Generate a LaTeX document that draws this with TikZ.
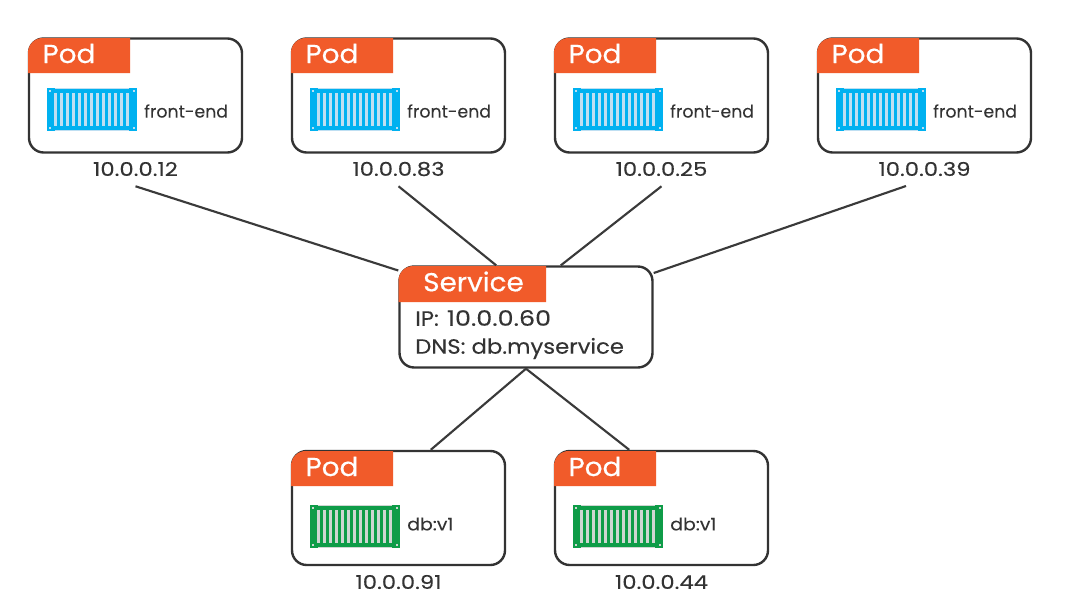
\documentclass[tikz,border=0pt]{standalone}
\usepackage{fontspec}
\setmainfont{Poppins}
\newfontfamily\tabface[FakeBold=0.5,FakeStretch=1.07]{Poppins}
\newfontfamily\ipface[FakeStretch=1.2,FakeBold=0.15]{Poppins}
\newfontfamily\svcface[FakeStretch=1.1,FakeBold=0.15]{Poppins}
\newfontfamily\appface[FakeBold=0.1]{Poppins}
\newfontfamily\dbface[FakeStretch=1.09,FakeBold=0.1]{Poppins}
\definecolor{taborange}{HTML}{F15B2A}
\definecolor{boxline}{HTML}{333333}
\definecolor{linkline}{HTML}{3A3A3A}
\definecolor{textdark}{HTML}{333333}
\definecolor{frontblue}{HTML}{00B1F0}
\definecolor{frontstripe}{HTML}{BFDFF2}
\definecolor{dbgreen}{HTML}{0E9C48}
\definecolor{dbstripe}{HTML}{CFD6D2}
\tikzset{
  podbox/.style={draw=boxline, fill=white, line width=1.8pt, rounded corners=11pt,
    minimum width=159.75pt, minimum height=85.5pt, inner sep=0pt},
  svcbox/.style={draw=boxline, fill=white, line width=1.8pt, rounded corners=11pt,
    minimum width=189.75pt, minimum height=75.75pt, inner sep=0pt},
  link/.style={draw=linkline, line width=1.6pt},
  tabtext/.style={text=white, font=\tabface\fontsize{19.5}{20}\selectfont, inner sep=0pt},
  iptext/.style={text=textdark, font=\ipface\fontsize{14.2}{16}\selectfont, inner sep=0pt, minimum height=25.5pt},
  apptext/.style={text=textdark, font=\appface\fontsize{13}{15}\selectfont, inner sep=0pt, anchor=west},
  dbtext/.style={text=textdark, font=\dbface\fontsize{13}{15}\selectfont, inner sep=0pt, anchor=west},
  svctext/.style={text=textdark, font=\svcface\fontsize{15.5}{17}\selectfont, inner sep=0pt, anchor=west},
}
% container: left, top, body colour, stripe colour
\newcommand{\drawcontainer}[4]{
  \fill[#3] (#1,#2) rectangle (#1+90,#2+43);
  \fill[#4] (#1+8,#2+0.3) rectangle (#1+82,#2+1.1);
  \fill[#4] (#1+8,#2+41.9) rectangle (#1+82,#2+42.7);
  \foreach \s in {0,...,12}
    \fill[#4] (#1+7.2+6*\s,#2+5) rectangle (#1+9.8+6*\s,#2+38);
  \foreach \cx/\cy in {1.5/2,85.5/2,1.5/38.5,85.5/38.5}
    \fill[#4] (#1+\cx,#2+\cy) rectangle (#1+\cx+2.5,#2+\cy+2);
}
\begin{document}
\begin{tikzpicture}[x=0.75pt,y=-0.75pt]
\useasboundingbox (0,0) rectangle (1068,600);

% front-end pods
\foreach \px/\ip/\nm in {29/10.0.0.12/a,292/10.0.0.83/b,555/10.0.0.25/c,818/10.0.0.39/d}{
  \node[podbox] (pod\nm) at (\px+106.5,95.5) {};
  \fill[taborange] (\px-1,73) [rounded corners=11pt] -- (\px-1,38) [sharp corners] -- (\px+101,38) -- (\px+101,73) -- cycle;
  \node[tabtext] (tab\nm) at (\px+40,53.5) {Pod};
  \drawcontainer{\px+18}{88}{frontblue}{frontstripe}
  \node[apptext] (app\nm) at (\px+115,111) {front-end};
  \node[iptext] (ip\nm) at (\px+106.5,169) {\ip};
}

% db pods
\foreach \px/\ip/\nm in {292/10.0.0.91/e,555/10.0.0.44/f}{
  \node[podbox] (pod\nm) at (\px+106.5,508) {};
  \fill[taborange] (\px-1,486) [rounded corners=11pt] -- (\px-1,451) [sharp corners] -- (\px+101,451) -- (\px+101,486) -- cycle;
  \node[tabtext] (tab\nm) at (\px+40,466.5) {Pod};
  \drawcontainer{\px+18}{505}{dbgreen}{dbstripe}
  \node[dbtext] (app\nm) at (\px+115,524) {db:v1};
  \node[iptext] (ip\nm) at (\px+106.5,582) {\ip};
}

% service
\node[svcbox] (svc) at (526,317) {};
\fill[taborange] (398.5,302) [rounded corners=11pt] -- (398.5,266) [sharp corners] -- (546,266) -- (546,302) -- cycle;
\node[tabtext] (svctab) at (473.5,281.5) {Service};
\node[svctext] (svcip) at (415,318) {IP:\hspace{6pt}{\ipface\fontsize{15.9}{17}\selectfont 10.0.0.60}};
\node[svctext] (svcdns) at (415,348.5) {DNS: db.myservice};

\coordinate (ipdend) at (906,186);
\draw[link] (ipa.south) -- (svc.160.5);
\draw[link] (ipb.south) -- (svc.120);
\draw[link] (ipc.south) -- (svc.56);
\draw[link] (ipdend) -- (svc.19.6);
\draw[link] (svc.south) -- (pode.61);
\draw[link] (svc.south) -- (podf.119);

\end{tikzpicture}
\end{document}
